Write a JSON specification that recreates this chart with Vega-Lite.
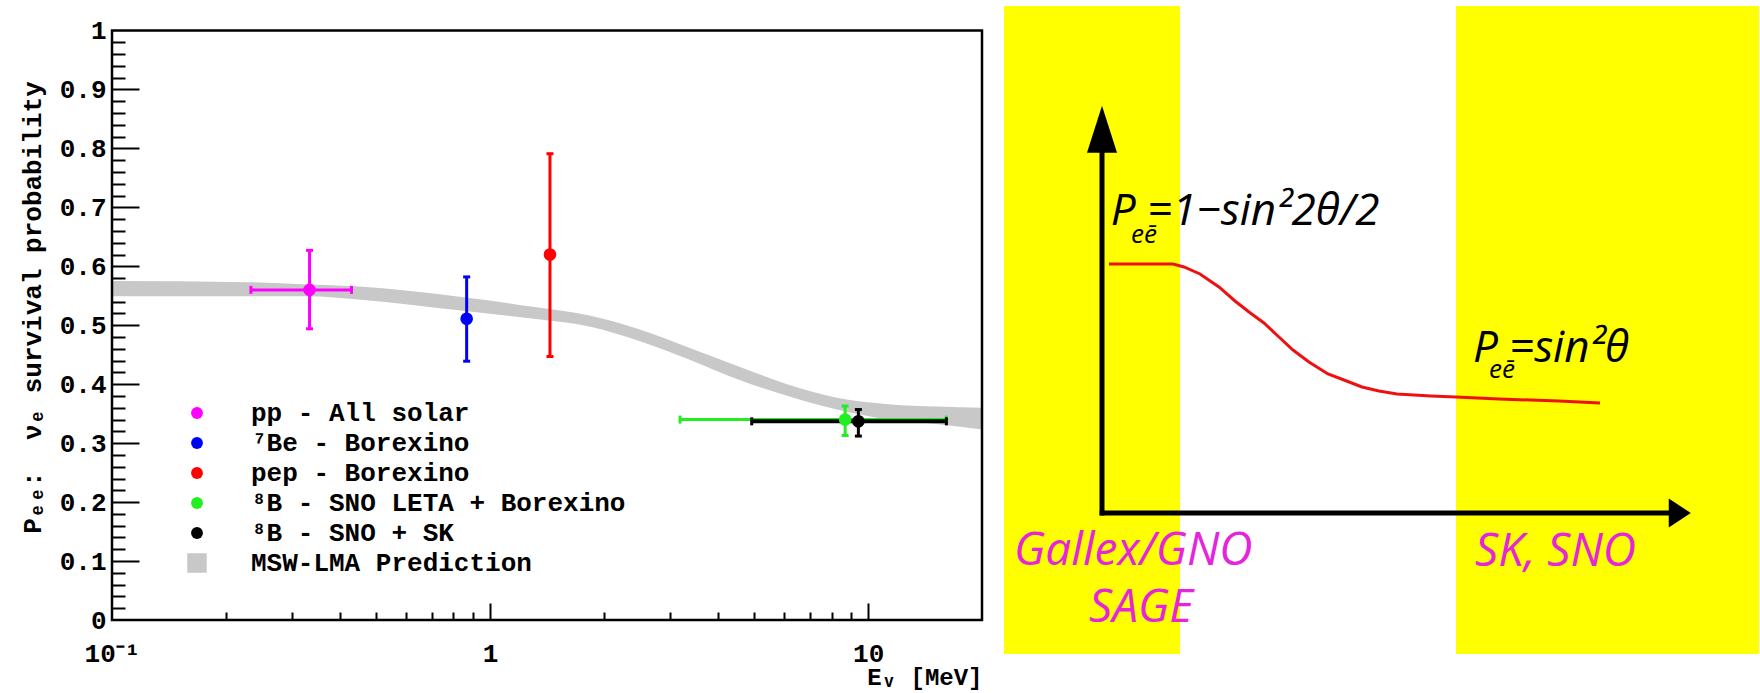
{
  "$schema": "https://vega.github.io/schema/vega-lite/v6.json",
  "background": "white",
  "padding": {"left": 19, "top": 0, "right": 0, "bottom": 0},
  "spacing": 22,
  "bounds": "flush",
  "config": {"view": {"stroke": null}, "axis": {"grid": false}},
  "datasets": {
    "meas": [
      {"src": "pp - All solar", "E": 0.333, "Elo": 0.233, "Ehi": 0.43, "P": 0.56, "Plo": 0.494, "Phi": 0.627},
      {"src": "⁷Be - Borexino", "E": 0.867, "P": 0.511, "Plo": 0.439, "Phi": 0.582},
      {"src": "pep - Borexino", "E": 1.44, "P": 0.62, "Plo": 0.447, "Phi": 0.791},
      {"src": "⁸B - SNO LETA + Borexino", "E": 8.69, "Elo": 3.18, "Ehi": 16.1, "P": 0.34, "Plo": 0.313, "Phi": 0.363},
      {"src": "⁸B - SNO + SK", "E": 9.42, "Elo": 4.92, "Ehi": 16.1, "P": 0.337, "Plo": 0.312, "Phi": 0.357}
    ],
    "band": [
      {"E": 0.1, "lo": 0.549, "hi": 0.575},
      {"E": 0.23, "lo": 0.549, "hi": 0.573},
      {"E": 0.33, "lo": 0.549, "hi": 0.569},
      {"E": 0.44, "lo": 0.544, "hi": 0.566},
      {"E": 0.86, "lo": 0.524, "hi": 0.547},
      {"E": 1.34, "lo": 0.51, "hi": 0.53},
      {"E": 1.83, "lo": 0.498, "hi": 0.5165},
      {"E": 2.49, "lo": 0.473, "hi": 0.493},
      {"E": 3.36, "lo": 0.442, "hi": 0.462},
      {"E": 4.53, "lo": 0.408, "hi": 0.4305},
      {"E": 6.13, "lo": 0.38, "hi": 0.3995},
      {"E": 8.27, "lo": 0.357, "hi": 0.377},
      {"E": 11.3, "lo": 0.34, "hi": 0.366},
      {"E": 15.3, "lo": 0.332, "hi": 0.362},
      {"E": 20, "lo": 0.323, "hi": 0.36}
    ],
    "detectors": [
      {"name": "Gallex/GNO, SAGE", "e1": -1.664, "e2": 1.324, "p1": -3.464, "p2": 12.457},
      {"name": "SK, SNO", "e1": 6.01, "e2": 11.155, "p1": -3.464, "p2": 12.457}
    ],
    "curve": [
      {"e": 0.119, "p": 6.118}, {"e": 1.205, "p": 6.118}, {"e": 1.392, "p": 6.044},
      {"e": 1.664, "p": 5.872}, {"e": 1.986, "p": 5.553}, {"e": 2.258, "p": 5.209},
      {"e": 2.496, "p": 4.939}, {"e": 2.75, "p": 4.668}, {"e": 3.005, "p": 4.324},
      {"e": 3.243, "p": 4.005}, {"e": 3.514, "p": 3.71}, {"e": 3.837, "p": 3.415},
      {"e": 4.109, "p": 3.268}, {"e": 4.414, "p": 3.096}, {"e": 4.703, "p": 2.998},
      {"e": 5.008, "p": 2.924}, {"e": 5.586, "p": 2.875}, {"e": 6.01, "p": 2.85},
      {"e": 6.74, "p": 2.801}, {"e": 7.759, "p": 2.752}, {"e": 8.455, "p": 2.703}
    ],
    "schemaAxes": [
      {"e1": 0, "p1": -0.06, "e2": 0, "p2": 8.95},
      {"e1": -0.04, "p1": 0, "e2": 9.68, "p2": 0}
    ],
    "annotations": [
      {"kind": "formula", "t": "P", "e": 0.15, "p": 7.076},
      {"kind": "formula", "t": "=1−sin²2θ/2", "e": 0.764, "p": 7.076},
      {"kind": "formula", "t": "P", "e": 6.3, "p": 3.71},
      {"kind": "formula", "t": "=sin²θ", "e": 6.91, "p": 3.71},
      {"kind": "small", "t": "eē", "e": 0.492, "p": 6.634},
      {"kind": "small", "t": "eē", "e": 6.57, "p": 3.317},
      {"kind": "detector", "t": "Gallex/GNO", "e": -1.494, "p": -1.278},
      {"kind": "detector", "t": "SAGE", "e": -0.221, "p": -2.678},
      {"kind": "detector", "t": "SK, SNO", "e": 6.333, "p": -1.302}
    ]
  },
  "hconcat": [
    {
      "width": 870,
      "height": 620,
      "resolve": {"axis": {"x": "independent", "y": "independent"}},
      "layer": [
        {
          "data": {"name": "band"},
          "mark": {"type": "area", "interpolate": "monotone"},
          "encoding": {
            "x": {"field": "E", "type": "quantitative",
              "scale": {"type": "log", "domain": [0.1, 20], "nice": false},
              "axis": {"orient": "bottom", "values": [0.1, 1, 10],
                "labelExpr": "datum.value < 0.5 ? '10⁻¹' : (datum.value < 5 ? '1' : '10')",
                "ticks": false, "tickSize": 0, "domain": false, "grid": false,
                "labelPadding": 20, "labelFont": "Liberation Mono", "labelFontWeight": "bold", "labelFontSize": 26,
                "labelColor": "black", "labelFlush": false, "labelOverlap": false, "labelBound": false, "labelBaseline": "top",
                "title": "Eᵥ  [MeV]", "titleFont": "Liberation Mono", "titleFontWeight": "bold", "titleFontSize": 24,
                "titleColor": "black", "titleX": 870, "titleY": 64, "titleAlign": "right", "titleAnchor": "end", "titleBaseline": "alphabetic"}},
            "y": {"field": "lo", "type": "quantitative",
              "scale": {"domain": [0, 1.05174], "nice": false, "zero": false},
              "axis": {"orient": "left", "values": [0, 0.1, 0.2, 0.3, 0.4, 0.5, 0.6, 0.7, 0.8, 0.9, 1],
                "format": ".1~f", "ticks": false, "tickSize": 0, "domain": false, "grid": false,
                "labelPadding": 6, "labelFont": "Liberation Mono", "labelFontWeight": "bold", "labelFontSize": 26,
                "labelColor": "black", "labelFlush": false, "labelOverlap": false, "labelBound": false,
                "title": "Pₑₑ:\u00a0 νₑ survival probability", "titleFont": "Liberation Mono", "titleFontWeight": "bold",
                "titleFontSize": 26, "titleColor": "black", "titleX": -80, "titleY": 307, "titleAngle": 270,
                "titleAlign": "center", "titleBaseline": "middle"}},
            "y2": {"field": "hi"},
            "color": {"datum": "MSW-LMA Prediction", "type": "nominal", "title": null,
              "scale": {"domain": ["pp - All solar", "⁷Be - Borexino", "pep - Borexino", "⁸B - SNO LETA + Borexino", "⁸B - SNO + SK", "MSW-LMA Prediction"],
                "range": ["#ff00ff", "#0000ff", "#ff0000", "#22ee22", "#000000", "#c8c8c8"]},
              "legend": {"title": null, "orient": "none", "legendX": 72, "legendY": 400, "direction": "vertical",
                "labelFont": "Liberation Mono", "labelFontWeight": "bold", "labelFontSize": 26, "labelColor": "black",
                "labelLimit": 800, "labelOffset": 41, "rowPadding": 4, "symbolSize": 380, "padding": 0,
                "symbolStrokeWidth": 0, "symbolOpacity": 1, "symbolType": "circle",
                "encode": {"symbols": {"update": {
                  "shape": {"signal": "datum.value === 'MSW-LMA Prediction' ? 'square' : 'circle'"},
                  "size": {"signal": "datum.value === 'MSW-LMA Prediction' ? 380 : 140"},
                  "fill": {"scale": "color", "field": "value"},
                  "stroke": {"value": "transparent"},
                  "opacity": {"value": 1}}}}}}
          }
        },
        {
          "data": {"values": [{}]},
          "mark": {"type": "rect", "filled": false, "stroke": "black", "strokeWidth": 2.5},
          "encoding": {
            "x": {"datum": 0.1, "type": "quantitative", "scale": {"type": "log", "domain": [0.1, 20], "nice": false},
              "axis": {"orient": "bottom", "offset": -17, "tickSize": 17, "tickWidth": 2, "tickColor": "black",
                "labels": false, "domain": false, "grid": false, "values": [1, 10], "title": null}},
            "x2": {"datum": 20},
            "y": {"datum": 0, "type": "quantitative", "scale": {"domain": [0, 1.05174], "nice": false, "zero": false},
              "axis": {"orient": "left", "offset": -27, "tickSize": 27, "tickWidth": 2, "tickColor": "black",
                "labels": false, "domain": false, "grid": false, "values": [0.1, 0.2, 0.3, 0.4, 0.5, 0.6, 0.7, 0.8, 0.9], "title": null}},
            "y2": {"datum": 1}
          }
        },
        {
          "data": {"name": "meas"},
          "mark": {"type": "rule", "strokeWidth": 3},
          "encoding": {
            "x": {"field": "E", "type": "quantitative", "scale": {"type": "log", "domain": [0.1, 20], "nice": false},
              "axis": {"orient": "bottom", "offset": -8, "tickSize": 8, "tickWidth": 2, "tickColor": "black",
                "labels": false, "domain": false, "grid": false,
                "values": [0.2, 0.3, 0.4, 0.5, 0.6, 0.7, 0.8, 0.9, 2, 3, 4, 5, 6, 7, 8, 9], "title": null}},
            "y": {"field": "Plo", "type": "quantitative", "scale": {"domain": [0, 1.05174], "nice": false, "zero": false},
              "axis": {"orient": "left", "offset": -13, "tickSize": 13, "tickWidth": 2, "tickColor": "black",
                "labels": false, "domain": false, "grid": false, "title": null,
                "values": [0.02, 0.04, 0.06, 0.08, 0.12, 0.14, 0.16, 0.18, 0.22, 0.24, 0.26, 0.28, 0.32, 0.34, 0.36, 0.38, 0.42, 0.44, 0.46, 0.48, 0.52, 0.54, 0.56, 0.58, 0.62, 0.64, 0.66, 0.68, 0.72, 0.74, 0.76, 0.78, 0.82, 0.84, 0.86, 0.88, 0.92, 0.94, 0.96, 0.98]}},
            "y2": {"field": "Phi"},
            "color": {"field": "src", "type": "nominal", "title": null}
          }
        },
        {
          "data": {"name": "meas"},
          "transform": [{"filter": "isValid(datum.Elo)"}],
          "mark": {"type": "rule"},
          "encoding": {
            "x": {"field": "Elo", "type": "quantitative", "scale": {"type": "log", "domain": [0.1, 20], "nice": false}, "axis": null},
            "x2": {"field": "Ehi"},
            "y": {"field": "P", "type": "quantitative", "scale": {"domain": [0, 1.05174], "nice": false, "zero": false}, "axis": null},
            "color": {"field": "src", "type": "nominal", "title": null},
            "strokeWidth": {"condition": {"test": "datum.src === '⁸B - SNO + SK'", "value": 4}, "value": 3}
          }
        },
        {
          "data": {"name": "meas"},
          "transform": [{"fold": ["Plo", "Phi"], "as": ["end", "Pend"]}],
          "mark": {"type": "tick", "orient": "horizontal", "size": 7, "thickness": 3, "opacity": 1},
          "encoding": {
            "x": {"field": "E", "type": "quantitative", "scale": {"type": "log", "domain": [0.1, 20], "nice": false}, "axis": null},
            "y": {"field": "Pend", "type": "quantitative", "scale": {"domain": [0, 1.05174], "nice": false, "zero": false}, "axis": null},
            "color": {"field": "src", "type": "nominal", "title": null}
          }
        },
        {
          "data": {"name": "meas"},
          "transform": [{"filter": "isValid(datum.Elo)"}, {"fold": ["Elo", "Ehi"], "as": ["end", "Eend"]}],
          "mark": {"type": "tick", "orient": "vertical", "size": 8, "thickness": 3, "opacity": 1},
          "encoding": {
            "x": {"field": "Eend", "type": "quantitative", "scale": {"type": "log", "domain": [0.1, 20], "nice": false}, "axis": null},
            "y": {"field": "P", "type": "quantitative", "scale": {"domain": [0, 1.05174], "nice": false, "zero": false}, "axis": null},
            "color": {"field": "src", "type": "nominal", "title": null}
          }
        },
        {
          "data": {"name": "meas"},
          "mark": {"type": "point", "shape": "circle", "filled": true, "size": 160, "opacity": 1},
          "encoding": {
            "x": {"field": "E", "type": "quantitative", "scale": {"type": "log", "domain": [0.1, 20], "nice": false}, "axis": null},
            "y": {"field": "P", "type": "quantitative", "scale": {"domain": [0, 1.05174], "nice": false, "zero": false}, "axis": null},
            "color": {"field": "src", "type": "nominal", "title": null}
          }
        }
      ]
    },
    {
      "width": 755,
      "height": 693,
      "layer": [
        {
          "data": {"name": "detectors"},
          "mark": {"type": "rect", "color": "#ffff00", "opacity": 1},
          "encoding": {
            "x": {"field": "e1", "type": "quantitative", "scale": {"domain": [-1.664, 11.155], "nice": false, "zero": false}, "axis": null},
            "x2": {"field": "e2"},
            "y": {"field": "p1", "type": "quantitative", "scale": {"domain": [-4.423, 12.604], "nice": false, "zero": false}, "axis": null},
            "y2": {"field": "p2"}
          }
        },
        {
          "data": {"name": "curve"},
          "mark": {"type": "line", "color": "#ee1111", "strokeWidth": 3},
          "encoding": {
            "x": {"field": "e", "type": "quantitative", "scale": {"domain": [-1.664, 11.155], "nice": false, "zero": false}, "axis": null},
            "y": {"field": "p", "type": "quantitative", "scale": {"domain": [-4.423, 12.604], "nice": false, "zero": false}, "axis": null}
          }
        },
        {
          "data": {"name": "schemaAxes"},
          "mark": {"type": "rule", "color": "black", "strokeWidth": 5},
          "encoding": {
            "x": {"field": "e1", "type": "quantitative", "scale": {"domain": [-1.664, 11.155], "nice": false, "zero": false}, "axis": null},
            "x2": {"field": "e2"},
            "y": {"field": "p1", "type": "quantitative", "scale": {"domain": [-4.423, 12.604], "nice": false, "zero": false}, "axis": null},
            "y2": {"field": "p2"}
          }
        },
        {
          "data": {"values": [{}]},
          "mark": {"type": "point", "shape": "M0,-1L0.64,1L-0.64,1Z", "filled": true, "color": "black", "size": 2209, "opacity": 1},
          "encoding": {
            "x": {"datum": 0, "type": "quantitative", "scale": {"domain": [-1.664, 11.155], "nice": false, "zero": false}, "axis": null},
            "y": {"datum": 9.43, "type": "quantitative", "scale": {"domain": [-4.423, 12.604], "nice": false, "zero": false}, "axis": null}
          }
        },
        {
          "data": {"values": [{}]},
          "mark": {"type": "point", "shape": "M0.76,0L-0.76,-1L-0.76,1Z", "filled": true, "color": "black", "size": 841, "opacity": 1},
          "encoding": {
            "x": {"datum": 9.81, "type": "quantitative", "scale": {"domain": [-1.664, 11.155], "nice": false, "zero": false}, "axis": null},
            "y": {"datum": 0, "type": "quantitative", "scale": {"domain": [-4.423, 12.604], "nice": false, "zero": false}, "axis": null}
          }
        },
        {
          "data": {"name": "annotations"},
          "transform": [{"filter": "datum.kind === 'formula'"}],
          "mark": {"type": "text", "align": "left", "baseline": "alphabetic", "font": "Open Sans", "fontStyle": "italic", "fontSize": 44, "color": "black"},
          "encoding": {
            "x": {"field": "e", "type": "quantitative", "scale": {"domain": [-1.664, 11.155], "nice": false, "zero": false}, "axis": null},
            "y": {"field": "p", "type": "quantitative", "scale": {"domain": [-4.423, 12.604], "nice": false, "zero": false}, "axis": null},
            "text": {"field": "t"}
          }
        },
        {
          "data": {"name": "annotations"},
          "transform": [{"filter": "datum.kind === 'small'"}],
          "mark": {"type": "text", "align": "left", "baseline": "alphabetic", "font": "Open Sans", "fontStyle": "italic", "fontSize": 26, "color": "black"},
          "encoding": {
            "x": {"field": "e", "type": "quantitative", "scale": {"domain": [-1.664, 11.155], "nice": false, "zero": false}, "axis": null},
            "y": {"field": "p", "type": "quantitative", "scale": {"domain": [-4.423, 12.604], "nice": false, "zero": false}, "axis": null},
            "text": {"field": "t"}
          }
        },
        {
          "data": {"name": "annotations"},
          "transform": [{"filter": "datum.kind === 'detector'"}],
          "mark": {"type": "text", "align": "left", "baseline": "alphabetic", "font": "Open Sans", "fontStyle": "italic", "fontSize": 46, "color": "#e524dc"},
          "encoding": {
            "x": {"field": "e", "type": "quantitative", "scale": {"domain": [-1.664, 11.155], "nice": false, "zero": false}, "axis": null},
            "y": {"field": "p", "type": "quantitative", "scale": {"domain": [-4.423, 12.604], "nice": false, "zero": false}, "axis": null},
            "text": {"field": "t"}
          }
        }
      ]
    }
  ]
}
